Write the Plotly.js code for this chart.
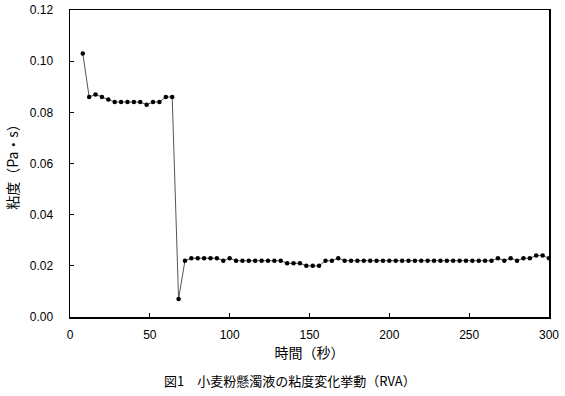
<!DOCTYPE html>
<html><head><meta charset="utf-8">
<script src="https://cdn.plot.ly/plotly-3.0.1.min.js"></script>
<style>html,body{margin:0;padding:0;background:#fff;}#c{width:565px;height:396px;}</style>
</head><body><div id="c"></div>
<script>
const timeSec = [8,12,16,20,24,28,32,36,40,44,48,52,56,60,64,68,72,76,80,84,88,92,96,100,104,108,112,116,120,124,128,132,136,140,144,148,152,156,160,164,168,172,176,180,184,188,192,196,200,204,208,212,216,220,224,228,232,236,240,244,248,252,256,260,264,268,272,276,280,284,288,292,296,300];
const viscosity = [0.103,0.086,0.087,0.086,0.085,0.084,0.084,0.084,0.084,0.084,0.083,0.084,0.084,0.086,0.086,0.007,0.022,0.023,0.023,0.023,0.023,0.023,0.022,0.023,0.022,0.022,0.022,0.022,0.022,0.022,0.022,0.022,0.021,0.021,0.021,0.020,0.020,0.020,0.022,0.022,0.023,0.022,0.022,0.022,0.022,0.022,0.022,0.022,0.022,0.022,0.022,0.022,0.022,0.022,0.022,0.022,0.022,0.022,0.022,0.022,0.022,0.022,0.022,0.022,0.022,0.023,0.022,0.023,0.022,0.023,0.023,0.024,0.024,0.023];
const xTickVals = [0,50,100,150,200,250,300];
const yTickVals = [0,0.02,0.04,0.06,0.08,0.10,0.12];
const yTickText = ['0.00','0.02','0.04','0.06','0.08','0.10','0.12'];
const xTitle = '時間（秒）';
const yTitle = '粘度（Pa・s）';
const caption = '図1　小麦粉懸濁液の粘度変化挙動（RVA）';

const jp = '"Noto Sans CJK JP", "Liberation Sans", sans-serif';
const tickFont = {family:'"Liberation Sans", Arial, sans-serif', size:12, color:'#000'};

Plotly.newPlot('c', [{
  x: timeSec, y: viscosity, type:'scatter', mode:'lines+markers',
  line:{color:'#555', width:1},
  marker:{color:'#000', size:4.5}
}], {
  width:565, height:396,
  margin:{l:70, r:16, t:10, b:79},
  paper_bgcolor:'#fff', plot_bgcolor:'#fff',
  showlegend:false,
  xaxis:{range:[0,300], tickvals:xTickVals, ticks:'inside', ticklen:4, tickcolor:'#000',
    showline:true, linecolor:'#000', linewidth:1.5, mirror:true, showgrid:false, zeroline:false,
    tickfont:tickFont, ticklabelstandoff:6,
    title:{text:xTitle, font:{family:jp, size:14, color:'#000'}, standoff:6}},
  yaxis:{range:[0,0.12], tickvals:yTickVals, ticktext:yTickText, ticks:'inside', ticklen:4, tickcolor:'#000',
    showline:true, linecolor:'#000', linewidth:1.5, mirror:true, showgrid:false, zeroline:false,
    tickfont:tickFont, ticklabelstandoff:13,
    title:{text:yTitle, font:{family:jp, size:14, color:'#000'}, standoff:8}},
  annotations:[{text:caption, xref:'paper', yref:'paper', x:0.459, y:-0.208, xanchor:'center', yanchor:'middle',
    showarrow:false, font:{family:jp, size:13, color:'#000'}}]
}, {displayModeBar:false, staticPlot:true});
</script></body></html>
